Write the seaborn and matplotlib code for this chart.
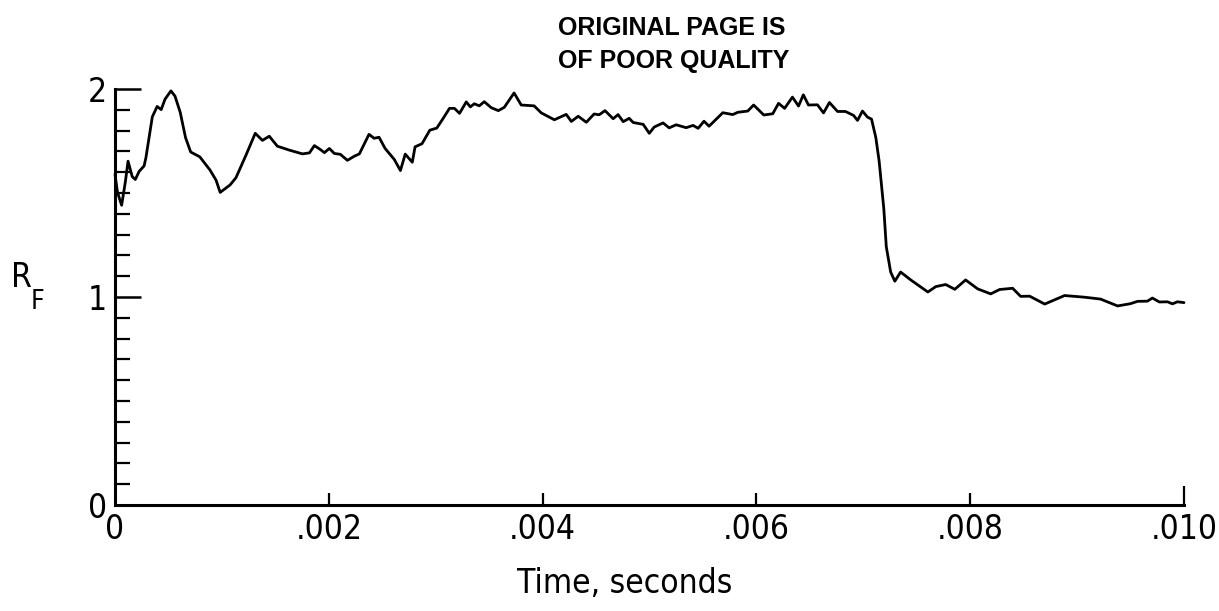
import numpy as np
import pandas as pd
import matplotlib
matplotlib.use("Agg")
import matplotlib.pyplot as plt
from matplotlib import font_manager
from matplotlib.ticker import MultipleLocator
import seaborn as sns

time_ms = [0.000, 0.023, 0.062, 0.097, 0.122, 0.161, 0.190, 0.226, 0.272, 0.289,
           0.315, 0.349, 0.394, 0.432, 0.468, 0.523, 0.561, 0.610, 0.660, 0.708,
           0.793, 0.888, 0.945, 0.984, 1.077, 1.132, 1.222, 1.312, 1.379, 1.443,
           1.519, 1.632, 1.754, 1.819, 1.865, 1.921, 1.959, 2.005, 2.052, 2.108,
           2.174, 2.239, 2.286, 2.376, 2.424, 2.470, 2.527, 2.613, 2.670, 2.715,
           2.781, 2.807, 2.872, 2.945, 3.010, 3.074, 3.129, 3.175, 3.223, 3.286,
           3.324, 3.361, 3.408, 3.454, 3.520, 3.586, 3.642, 3.733, 3.800, 3.921,
           3.988, 4.110, 4.221, 4.269, 4.333, 4.409, 4.482, 4.529, 4.584, 4.660,
           4.706, 4.754, 4.810, 4.847, 4.941, 4.998, 5.044, 5.127, 5.184, 5.249,
           5.343, 5.408, 5.455, 5.510, 5.557, 5.686, 5.779, 5.826, 5.919, 5.974,
           6.069, 6.153, 6.207, 6.264, 6.337, 6.394, 6.439, 6.487, 6.571, 6.628,
           6.683, 6.759, 6.833, 6.909, 6.946, 6.992, 7.039, 7.077, 7.117, 7.148,
           7.192, 7.215, 7.256, 7.295, 7.349, 7.444, 7.604, 7.678, 7.771, 7.856,
           7.957, 8.070, 8.192, 8.275, 8.397, 8.472, 8.556, 8.697, 8.883, 9.070,
           9.219, 9.379, 9.500, 9.565, 9.658, 9.704, 9.770, 9.845, 9.892, 9.938,
           10.0]

r_f = [1.59, 1.504, 1.441, 1.554, 1.653, 1.579, 1.565, 1.604, 1.630, 1.669,
       1.753, 1.866, 1.916, 1.901, 1.951, 1.991, 1.966, 1.888, 1.766, 1.697,
       1.674, 1.611, 1.562, 1.503, 1.539, 1.574, 1.678, 1.787, 1.753, 1.773,
       1.725, 1.706, 1.688, 1.693, 1.728, 1.709, 1.694, 1.714, 1.690, 1.686,
       1.657, 1.677, 1.688, 1.782, 1.763, 1.768, 1.714, 1.661, 1.608, 1.687,
       1.648, 1.722, 1.737, 1.802, 1.812, 1.862, 1.907, 1.907, 1.883, 1.938,
       1.914, 1.929, 1.919, 1.939, 1.910, 1.896, 1.912, 1.981, 1.923, 1.919,
       1.885, 1.852, 1.878, 1.844, 1.869, 1.840, 1.880, 1.876, 1.896, 1.857,
       1.877, 1.843, 1.859, 1.839, 1.830, 1.787, 1.817, 1.837, 1.813, 1.828,
       1.814, 1.825, 1.811, 1.845, 1.821, 1.886, 1.877, 1.888, 1.894, 1.923,
       1.875, 1.881, 1.931, 1.907, 1.961, 1.918, 1.972, 1.923, 1.924, 1.885,
       1.935, 1.892, 1.892, 1.873, 1.849, 1.894, 1.865, 1.855, 1.767, 1.654,
       1.424, 1.242, 1.120, 1.076, 1.120, 1.082, 1.024, 1.050, 1.060, 1.037,
       1.082, 1.039, 1.015, 1.036, 1.042, 1.003, 1.004, 0.966, 1.007, 0.999,
       0.990, 0.957, 0.968, 0.979, 0.980, 0.995, 0.976, 0.977, 0.967, 0.977,
       0.973]

x_ticks = [0, 0.002, 0.004, 0.006, 0.008, 0.010]
x_tick_labels = ["0", ".002", ".004", ".006", ".008", ".010"]
y_ticks = [0, 1, 2]
y_tick_labels = ["0", "1", "2"]

df = pd.DataFrame({"time": np.array(time_ms) / 1000, "rf": r_f})

sns.set_style("ticks")
plt.rcParams["font.family"] = ["DejaVu Sans"]
plt.rcParams["font.stretch"] = "condensed"
for key in ["text.color", "axes.labelcolor", "xtick.color", "ytick.color"]:
    plt.rcParams[key] = "black"

# narrow lettering like the old report
lab_font = font_manager.FontProperties(family="DejaVu Sans", stretch="condensed", size=24)

fig = plt.figure(figsize=(12.19, 6.11), dpi=100)
ax = fig.add_axes([115 / 1219, 106 / 611, (1184 - 115) / 1219, (505 - 89) / 611])

sns.lineplot(data=df, x="time", y="rf", color="black", linewidth=2.0, ax=ax, clip_on=False)

ax.set_xlim(0, 0.010)
ax.set_ylim(0, 2)

for side in ["top", "right"]:
    ax.spines[side].set_visible(False)
for side in ["left", "bottom"]:
    ax.spines[side].set_linewidth(2.2)
    ax.spines[side].set_color("black")

ax.set_xticks(x_ticks)
ax.set_xticklabels(x_tick_labels, fontproperties=lab_font)
ax.set_yticks(y_ticks)
ax.set_yticklabels(y_tick_labels, fontproperties=lab_font)
ax.yaxis.set_minor_locator(MultipleLocator(0.1))

ax.tick_params(axis="x", direction="in", length=9, width=1.6, pad=6)
ax.tick_params(axis="y", which="major", direction="in", length=19, width=1.8, pad=6)
ax.tick_params(axis="y", which="minor", direction="in", length=11, width=1.6)

xt = ax.xaxis.get_major_ticks()
xt[0].tick1line.set_visible(False)
xt[-1].tick1line.set_markersize(14)

ax.set_xlabel("Time, seconds", fontproperties=lab_font)
ax.xaxis.set_label_coords(0.477, -0.15)
ax.xaxis.label.set_va("top")
ax.set_ylabel("")

# R with subscript F
fig.text(11 / 1219, 1 - 287 / 611, "R", fontproperties=lab_font, va="baseline")
fig.text(31 / 1219, 1 - 309 / 611, "F", fontproperties=lab_font, fontsize=19, va="baseline")

fig.text(558 / 1219, 1 - 16 / 611, "ORIGINAL PAGE IS\nOF POOR QUALITY",
         fontsize=18, fontweight="bold", family=["Liberation Sans", "DejaVu Sans"],
         va="top", ha="left", linespacing=1.45, color="black")

fig.savefig("out.png", dpi=100)
